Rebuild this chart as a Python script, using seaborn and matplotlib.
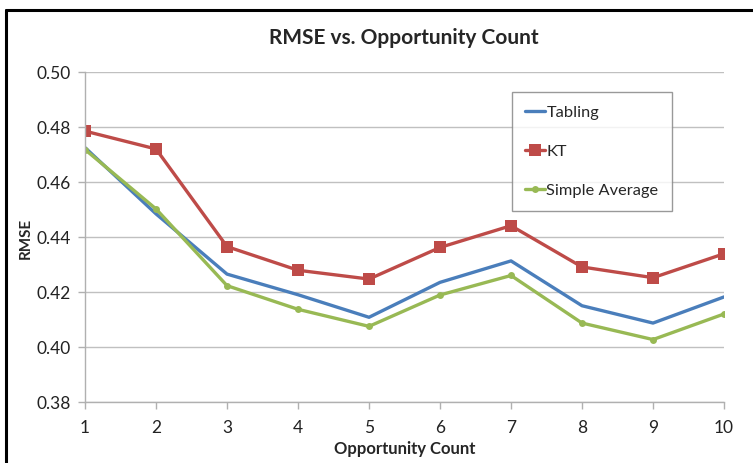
import numpy as np
import matplotlib.pyplot as plt
import pandas as pd
import seaborn as sns

# values
opportunity = [1, 2, 3, 4, 5, 6, 7, 8, 9, 10]
tabling = [0.4725, 0.4484, 0.4265, 0.4190, 0.4108, 0.4235, 0.4313, 0.4150, 0.4087, 0.4182]
kt = [0.4785, 0.4720, 0.4365, 0.4279, 0.4247, 0.4362, 0.4441, 0.4291, 0.4252, 0.4339]
simple_avg = [0.4718, 0.4502, 0.4223, 0.4137, 0.4075, 0.4189, 0.4260, 0.4087, 0.4027, 0.4120]
y_ticks = [0.38, 0.40, 0.42, 0.44, 0.46, 0.48, 0.50]

sns.set_theme(style="white")
plt.rcParams['font.family'] = ['Lato', 'DejaVu Sans']

fig = plt.figure(figsize=(7.53, 4.64), dpi=100)
ax = fig.add_axes([0.1129, 0.1315, 0.8486, 0.7112])

series = [
    ("Tabling", tabling, "#4A7EBB", None, 0),
    ("KT", kt, "#BE4B48", "s", 8),
    ("Simple Average", simple_avg, "#98B954", "o", 5),
]
for name, vals, col, mk, ms in series:
    df = pd.DataFrame({"x": opportunity, "y": vals})
    sns.lineplot(data=df, x="x", y="y", ax=ax, color=col, linewidth=2.4,
                 marker=mk, markersize=ms, markeredgewidth=0, label=name)

ax.set_xlim(1, 10)
ax.set_ylim(0.38, 0.50)
ax.set_xticks(opportunity)
ax.set_yticks(y_ticks)
ax.set_yticklabels([f"{v:.2f}" for v in y_ticks])
ax.yaxis.grid(True, color="#c0c0c0", linewidth=1)
ax.xaxis.grid(False)
for s in ["top", "right"]:
    ax.spines[s].set_visible(False)
for s in ["left", "bottom"]:
    ax.spines[s].set_color("#b0b0b0")
    ax.spines[s].set_linewidth(1)
ax.tick_params(axis="both", which="major", length=5, width=1, color="#b0b0b0",
               direction="out", labelsize=12.5, labelcolor="#222222", pad=5)
ax.tick_params(axis="x", pad=7)
ax.tick_params(left=True, bottom=True)

ax.set_xlabel("Opportunity Count", fontsize=12, fontweight="bold", labelpad=4)
ax.set_ylabel("RMSE", fontsize=11, fontweight="bold", labelpad=3)
fig.text(0.536, 0.918, "RMSE vs. Opportunity Count", ha="center", va="center",
         fontsize=15, fontweight="bold")

leg = ax.legend(loc="upper left", bbox_to_anchor=(0.668, 0.94), frameon=True,
                fancybox=False, edgecolor="#808080", fontsize=11.8,
                labelspacing=1.5, handlelength=1.2, handletextpad=0.1,
                borderpad=0.8, borderaxespad=0)
leg.get_frame().set_linewidth(1)

# chart-area border (black, open to the right and bottom as in the reference)
fig.add_artist(plt.Line2D([0.008, 1.0], [0.976, 0.976], transform=fig.transFigure,
                          color="black", linewidth=2.2))
fig.add_artist(plt.Line2D([0.008, 0.008], [0.0, 0.976], transform=fig.transFigure,
                          color="black", linewidth=2.2))

fig.savefig("out.png", dpi=100)
